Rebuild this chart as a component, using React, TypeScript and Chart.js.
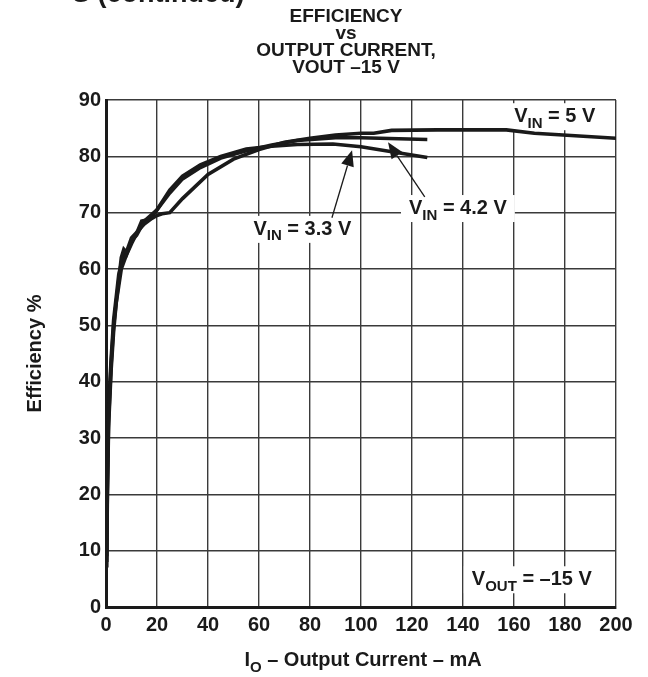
import React, { useEffect, useRef } from 'react';
import { Chart, registerables } from 'chart.js';

Chart.register(...registerables);

const xTicks = [0, 20, 40, 60, 80, 100, 120, 140, 160, 180, 200];
const yTicks = [0, 10, 20, 30, 40, 50, 60, 70, 80, 90];

const vin5Current = [0.3, 0.5, 1, 2, 3, 4, 5, 6, 7, 8, 10, 12, 15, 18, 20, 22, 25, 30, 40, 50, 60, 70, 80, 90, 100, 105, 112, 130, 157, 168, 200];
const vin5Eff = [7, 20, 33, 43, 50, 54, 58, 62, 63.5, 63, 65.5, 66.5, 68, 69, 69.5, 69.8, 70, 72.5, 76.8, 79.5, 81.2, 82.5, 83.2, 83.8, 84.1, 84.1, 84.6, 84.7, 84.7, 84.1, 83.2];

const vin42Current = [0.3, 0.5, 1, 2, 3, 4, 5, 6, 8, 10, 12, 15, 20, 25, 30, 37, 45, 55, 65, 75, 90, 100, 126];
const vin42Eff = [8, 18, 32, 42, 49, 54, 57, 60, 62.5, 65, 66, 68.5, 70.5, 73.5, 76, 78, 79.7, 81, 82, 82.8, 83.3, 83.3, 83];

const vin33Current = [0.3, 0.5, 1, 2, 3, 4, 5, 6, 7, 8, 10, 12, 14, 17, 20, 25, 30, 37, 45, 55, 65, 75, 89, 100, 126];
const vin33Eff = [9, 22, 35, 44, 51, 55, 59, 61, 63, 62.5, 64.5, 66.3, 68.5, 68.8, 70.5, 74, 76.5, 78.5, 80, 81.3, 81.8, 82.1, 82.2, 81.7, 79.8];

const titleLines = ['EFFICIENCY', 'vs', 'OUTPUT CURRENT,', 'VOUT \u201315 V'];

// labels: [main, subscript, rest, x, y]
const seriesLabels: [string, string, string, number, number][] = [
  ['V', 'IN', ' = 5 V', 176, 87.3],
  ['V', 'IN', ' = 4.2 V', 138, 71],
  ['V', 'IN', ' = 3.3 V', 77, 67.3],
  ['V', 'OUT', ' = \u201315 V', 167, 5.1],
];

// arrows: [tailX, tailY, tipX, tipY]
const arrows: [number, number, number, number][] = [
  [88.6, 69.1, 96.5, 81.1],
  [125, 72.8, 110.6, 82.5],
];

const FONT = '"Liberation Sans", Arial, Helvetica, sans-serif';
const LABEL_SIZE = 20;

function toPoints(xs: number[], ys: number[]) {
  return xs.map((x, i) => ({ x, y: ys[i] }));
}

function measureSub(ctx: CanvasRenderingContext2D, main: string, sub: string, rest: string, size: number) {
  const big = `bold ${size}px ${FONT}`;
  const small = `bold ${Math.round(size * 0.76)}px ${FONT}`;
  ctx.font = big;
  const w1 = ctx.measureText(main).width;
  const w3 = ctx.measureText(rest).width;
  ctx.font = small;
  const w2 = ctx.measureText(sub).width;
  return { big, small, w1, w2, w3, total: w1 + w2 + w3 };
}

function drawSubText(ctx: CanvasRenderingContext2D, main: string, sub: string, rest: string, cx: number, cy: number, size: number) {
  const m = measureSub(ctx, main, sub, rest, size);
  const x0 = cx - m.total / 2;
  const base = cy + size * 0.36;
  ctx.fillStyle = '#1a1a1a';
  ctx.textAlign = 'left';
  ctx.textBaseline = 'alphabetic';
  ctx.font = m.big;
  ctx.fillText(main, x0, base);
  ctx.font = m.small;
  ctx.fillText(sub, x0 + m.w1, base + size * 0.27);
  ctx.font = m.big;
  ctx.fillText(rest, x0 + m.w1 + m.w2, base);
}

const annotationPlugin = {
  id: 'annotations',
  beforeDatasetsDraw(chart: any) {
    const ctx: CanvasRenderingContext2D = chart.ctx;
    const xs = chart.scales.x;
    const ys = chart.scales.y;
    ctx.save();
    seriesLabels.forEach(([mn, s, r, lx, ly]) => {
      const m = measureSub(ctx, mn, s, r, LABEL_SIZE);
      const cx = xs.getPixelForValue(lx);
      const cy = ys.getPixelForValue(ly);
      ctx.fillStyle = '#ffffff';
      ctx.fillRect(cx - m.total / 2 - 8, cy - LABEL_SIZE * 0.6, m.total + 16, LABEL_SIZE * 1.35);
    });
    ctx.restore();
  },
  afterDatasetsDraw(chart: any) {
    const ctx: CanvasRenderingContext2D = chart.ctx;
    const xs = chart.scales.x;
    const ys = chart.scales.y;
    ctx.save();
    arrows.forEach(([tx, ty, hx, hy]) => {
      const x1 = xs.getPixelForValue(tx);
      const y1 = ys.getPixelForValue(ty);
      const x2 = xs.getPixelForValue(hx);
      const y2 = ys.getPixelForValue(hy);
      const ang = Math.atan2(y2 - y1, x2 - x1);
      const len = 16;
      const half = 6.5;
      const bx = x2 - len * Math.cos(ang);
      const by = y2 - len * Math.sin(ang);
      ctx.strokeStyle = '#1a1a1a';
      ctx.lineWidth = 1.3;
      ctx.beginPath();
      ctx.moveTo(x1, y1);
      ctx.lineTo(bx, by);
      ctx.stroke();
      ctx.fillStyle = '#1a1a1a';
      ctx.beginPath();
      ctx.moveTo(x2, y2);
      ctx.lineTo(bx + half * Math.sin(ang), by - half * Math.cos(ang));
      ctx.lineTo(bx - half * Math.sin(ang), by + half * Math.cos(ang));
      ctx.closePath();
      ctx.fill();
    });
    seriesLabels.forEach(([m, s, r, lx, ly]) => {
      drawSubText(ctx, m, s, r, xs.getPixelForValue(lx), ys.getPixelForValue(ly), LABEL_SIZE);
    });
    ctx.restore();
  },
  afterDraw(chart: any) {
    const ctx: CanvasRenderingContext2D = chart.ctx;
    const area = chart.chartArea;
    ctx.save();
    ctx.fillStyle = '#1a1a1a';
    ctx.font = `bold 27px ${FONT}`;
    ctx.textAlign = 'left';
    ctx.textBaseline = 'alphabetic';
    ctx.fillText('S (continued)', 72, 2);
    ctx.font = `bold 19px ${FONT}`;
    ctx.textAlign = 'center';
    ctx.textBaseline = 'middle';
    titleLines.forEach((t, i) => ctx.fillText(t, 346, 17 + i * 17));
    ctx.save();
    ctx.translate(35, (area.top + area.bottom) / 2);
    ctx.rotate(-Math.PI / 2);
    ctx.font = `bold 20px ${FONT}`;
    ctx.textAlign = 'center';
    ctx.textBaseline = 'middle';
    ctx.fillText('Efficiency %', 0, 0);
    ctx.restore();
    drawSubText(ctx, 'I', 'O', ' \u2013 Output Current \u2013 mA', (area.left + area.right) / 2 + 2, 659, 20);
    ctx.restore();
  },
};

export default function App() {
  const ref = useRef<HTMLCanvasElement | null>(null);
  useEffect(() => {
    document.body.style.margin = '0';
    const canvas = ref.current;
    if (!canvas) return;
    const line = (data: { x: number; y: number }[], label: string) => ({
      label,
      data,
      borderColor: '#1a1a1a',
      borderWidth: 3.6,
      pointRadius: 0,
      tension: 0,
      fill: false,
    });
    const tickFont = { family: FONT, size: 20, weight: 'bold' };
    const chart = new Chart(canvas, {
      type: 'line',
      data: {
        datasets: [
          line(toPoints(vin5Current, vin5Eff), 'VIN = 5 V'),
          line(toPoints(vin42Current, vin42Eff), 'VIN = 4.2 V'),
          line(toPoints(vin33Current, vin33Eff), 'VIN = 3.3 V'),
        ],
      },
      options: {
        animation: false,
        responsive: false,
        maintainAspectRatio: false,
        layout: { padding: { top: 100, right: 32, left: 0, bottom: 0 } },
        plugins: { legend: { display: false }, tooltip: { enabled: false }, title: { display: false } },
        scales: {
          x: {
            type: 'linear',
            min: 0,
            max: 200,
            afterBuildTicks: (s: any) => { s.ticks = xTicks.map((v) => ({ value: v })); },
            afterFit: (s: any) => { s.height = 70; },
            ticks: { color: '#1a1a1a', font: tickFont, padding: 6, maxRotation: 0, autoSkip: false },
            grid: { color: '#3a3a3a', lineWidth: 1.4, drawTicks: false },
            border: { color: '#1a1a1a', width: 3 },
          },
          y: {
            type: 'linear',
            min: 0,
            max: 90,
            afterBuildTicks: (s: any) => { s.ticks = yTicks.map((v) => ({ value: v })); },
            afterFit: (s: any) => { s.width = 106; },
            ticks: { color: '#1a1a1a', font: tickFont, padding: 5, autoSkip: false },
            grid: { color: '#3a3a3a', lineWidth: 1.4, drawTicks: false },
            border: { color: '#1a1a1a', width: 3 },
          },
        },
      },
      plugins: [annotationPlugin],
    } as any);
    return () => chart.destroy();
  }, []);
  return (
    <div style={{ width: 648, height: 677, position: 'relative', background: '#fff' }}>
      <canvas ref={ref} width={648} height={677} style={{ display: 'block', width: 648, height: 677 }} />
    </div>
  );
}
